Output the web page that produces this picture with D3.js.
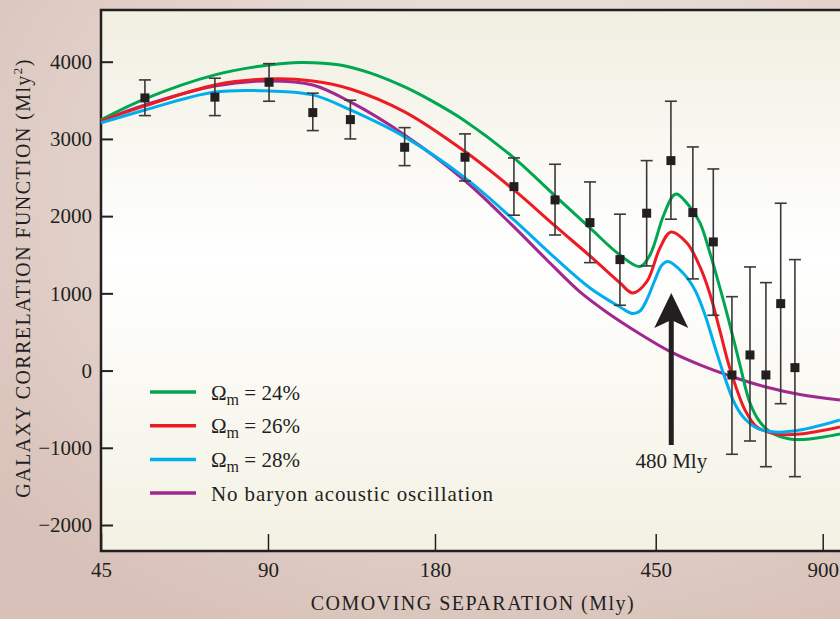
<!DOCTYPE html>
<html>
<head>
<meta charset="utf-8">
<script src="https://cdn.jsdelivr.net/npm/d3@7"></script>
<style>
body{margin:0;overflow:hidden;}
text{font-family:"Liberation Serif","DejaVu Serif",serif;fill:#231f20;}
</style>
</head>
<body>
<div class="bao-chart"></div>
<script>
// tick labels
const xTicks = [45, 90, 180, 450, 900];
const yTicks = [4000, 3000, 2000, 1000, 0, -1000, -2000];

// measured points (separation in Mly, correlation, error bar ends)
const sepData = [54, 72.2, 90.4, 108.4, 126.7, 158.7, 203.9, 249.8, 296.3, 342.5, 387.9, 433.4, 479.3, 525, 571.5, 617.5, 665.5, 711, 756, 802];
const corrData = [3531, 3541, 3734, 3341, 3250, 2892, 2763, 2382, 2210, 1916, 1437, 2038, 2719, 2046, 1666, -57, 202, -57, 867, 38];
const errHigh = [3764, 3786, 3975, 3592, 3501, 3146, 3065, 2754, 2672, 2443, 2025, 2719, 3488, 2896, 2611, 957, 1342, 1139, 2167, 1437];
const errLow = [3302, 3302, 3488, 3108, 3000, 2654, 2456, 2012, 1756, 1398, 846, 1355, 1960, 1187, 716, -1084, -912, -1245, -429, -1374];

// model curves [separation, correlation]
const omega24 = [[45,3246],[54,3518],[72.2,3829],[90.4,3958],[102.8,3991],[121.4,3958],[137.4,3855],[158.7,3673],[176.3,3505],[203.9,3233],[249.8,2754],[296.3,2262],[342.5,1847],[387.9,1497],[421.6,1348],[439.4,1497],[463.7,1989],[483.3,2262],[491.5,2287],[518.8,2119],[540.8,1912],[563.6,1523],[587.5,1070],[612.4,590],[638.3,73],[665.5,-420],[693.6,-666],[729,-809],[785.5,-886],[853.6,-886],[967,-822]];
const omega26 = [[45,3233],[54,3427],[72.2,3699],[90.4,3777],[108.4,3751],[126.7,3647],[158.7,3350],[203.9,2836],[249.8,2339],[296.3,1873],[342.5,1484],[387.9,1135],[409,1005],[433.4,1148],[458,1588],[479.3,1795],[512.3,1653],[540.8,1342],[563.6,992],[587.5,513],[607.4,111],[627.8,-212],[651.8,-510],[685,-731],[744.4,-822],[818.9,-822],[967,-731]];
const omega28 = [[45,3207],[54,3375],[72.2,3608],[90.4,3621],[108.4,3570],[126.7,3375],[158.7,3026],[203.9,2495],[249.8,1950],[296.3,1458],[342.5,1070],[387.9,824],[407.7,740],[421.6,772],[433.4,914],[448.6,1173],[461.8,1368],[473.4,1411],[503.9,1264],[529.6,1044],[552.2,720],[575.4,306],[599.8,-96],[625.2,-433],[651.8,-627],[685,-744],[738,-796],[818.9,-770],[967,-640]];
const noBao = [[45,3233],[54,3440],[72.2,3686],[90.4,3751],[108.4,3699],[126.7,3479],[158.7,3052],[203.9,2458],[249.8,1860],[286.5,1432],[328.6,1018],[364.5,772],[421.6,474],[479.3,241],[540.8,73],[620.1,-83],[711,-212],[818.9,-309],[967,-381]];

const seriesNames = ["24%", "26%", "28%", "No baryon acoustic oscillation"];
const seriesColors = ["#00a651", "#ed1c24", "#00aeef", "#a0288f"];
const seriesData = [omega24, omega26, omega28, noBao];

// arrow at the acoustic peak
const arrowSep = 480;
const arrowTop = 1005;
const arrowBottom = -964;

const width = 840;
const height = 619;
const plotLeft = 101, plotTop = 10, plotBottom = 551;

const svg = d3.select('.bao-chart')
    .append('svg')
    .attr('width', width)
    .attr('height', height);

const defs = svg.append('defs');
const outer = defs.append('radialGradient')
    .attr('id', 'outerBg')
    .attr('cx', '62%').attr('cy', '30%').attr('r', '80%');
outer.append('stop').attr('offset', '0%').attr('stop-color', '#f2ecea');
outer.append('stop').attr('offset', '100%').attr('stop-color', '#d8c1b8');

const inner = defs.append('linearGradient')
    .attr('id', 'plotBg')
    .attr('x1', 0).attr('y1', 0).attr('x2', 0).attr('y2', 1);
inner.append('stop').attr('offset', '0%').attr('stop-color', '#f1efe1');
inner.append('stop').attr('offset', '46%').attr('stop-color', '#ffffff');
inner.append('stop').attr('offset', '100%').attr('stop-color', '#f3f1e3');

svg.append('rect')
    .attr('width', width).attr('height', height)
    .attr('fill', 'url(#outerBg)');

const x = d3.scaleLog().domain([45, 967]).range([plotLeft, width]);
const y = d3.scaleLinear().domain([-2000, 4000]).range([525, 61.7]);

svg.append('rect')
    .attr('x', plotLeft).attr('y', plotTop)
    .attr('width', width - plotLeft + 5).attr('height', plotBottom - plotTop)
    .attr('fill', 'url(#plotBg)');

// axes (ticks point inward)
const yAxis = d3.axisLeft(y)
    .tickValues(yTicks)
    .tickSize(-12)
    .tickPadding(9)
    .tickFormat(d => d < 0 ? '\u2212' + Math.abs(d) : d);
const gy = svg.append('g')
    .attr('transform', `translate(${plotLeft},0)`)
    .call(yAxis);
gy.select('.domain').remove();
gy.selectAll('line').attr('stroke', '#231f20').attr('stroke-width', 2);
gy.selectAll('text')
    .attr('font-size', 21)
    .attr('font-family', '"Liberation Serif", serif')
    .attr('fill', '#231f20');

const xAxis = d3.axisBottom(x)
    .tickValues(xTicks)
    .tickSize(-17)
    .tickPadding(11)
    .tickFormat(d3.format('d'));
const gx = svg.append('g')
    .attr('transform', `translate(0,${plotBottom})`)
    .call(xAxis);
gx.select('.domain').remove();
gx.selectAll('line').attr('stroke', '#231f20').attr('stroke-width', 1.5);
gx.selectAll('text')
    .attr('font-size', 21)
    .attr('font-family', '"Liberation Serif", serif')
    .attr('fill', '#231f20');

// frame
svg.append('path')
    .attr('d', `M${width + 5},${plotTop}H${plotLeft}V${plotBottom}H${width + 5}`)
    .attr('fill', 'none')
    .attr('stroke', '#231f20')
    .attr('stroke-width', 2.5);

// model curves
const line = d3.line()
    .x(d => x(d[0]))
    .y(d => y(d[1]))
    .curve(d3.curveCatmullRom.alpha(0.5));

const plot = svg.append('g');
plot.selectAll('path.model')
    .data([3, 0, 1, 2])
    .enter()
    .append('path')
    .attr('class', 'model')
    .attr('d', i => line(seriesData[i]))
    .attr('fill', 'none')
    .attr('stroke', i => seriesColors[i])
    .attr('stroke-width', 3);

// error bars
const bars = plot.selectAll('g.bar')
    .data(sepData)
    .enter()
    .append('g')
    .attr('class', 'bar');
bars.append('line')
    .attr('x1', d => x(d)).attr('x2', d => x(d))
    .attr('y1', (d, i) => y(errHigh[i]))
    .attr('y2', (d, i) => y(errLow[i]))
    .attr('stroke', '#3a3838').attr('stroke-width', 1.6);
bars.append('line')
    .attr('x1', d => x(d) - 6).attr('x2', d => x(d) + 6)
    .attr('y1', (d, i) => y(errHigh[i]))
    .attr('y2', (d, i) => y(errHigh[i]))
    .attr('stroke', '#3a3838').attr('stroke-width', 1.6);
bars.append('line')
    .attr('x1', d => x(d) - 6).attr('x2', d => x(d) + 6)
    .attr('y1', (d, i) => y(errLow[i]))
    .attr('y2', (d, i) => y(errLow[i]))
    .attr('stroke', '#3a3838').attr('stroke-width', 1.6);
bars.append('rect')
    .attr('x', d => x(d) - 4.5)
    .attr('y', (d, i) => y(corrData[i]) - 4.5)
    .attr('width', 9).attr('height', 9)
    .attr('fill', '#231f20');

// arrow
const ax = x(arrowSep);
const tipY = y(arrowTop);
svg.append('line')
    .attr('x1', ax).attr('x2', ax)
    .attr('y1', tipY + 20).attr('y2', y(arrowBottom))
    .attr('stroke', '#231f20').attr('stroke-width', 5);
svg.append('path')
    .attr('d', `M${ax},${tipY}L${ax + 17},${tipY + 35}L${ax},${tipY + 27}L${ax - 17},${tipY + 35}Z`)
    .attr('fill', '#231f20');
svg.append('text')
    .attr('x', ax).attr('y', y(arrowBottom) + 23)
    .attr('text-anchor', 'middle')
    .attr('font-size', 21)
    .text(arrowSep + ' Mly');

// legend
const legend = svg.selectAll('g.legend')
    .data(seriesNames)
    .enter()
    .append('g')
    .attr('class', 'legend')
    .attr('transform', (d, i) => `translate(150,${392 + i * 33.7})`);
legend.append('line')
    .attr('x1', 0).attr('x2', 46)
    .attr('stroke', (d, i) => seriesColors[i])
    .attr('stroke-width', 3.5);
legend.each(function (d, i) {
    const t = d3.select(this).append('text')
        .attr('x', 61).attr('y', 7.5)
        .attr('font-size', 21);
    if (i < 3) {
        t.append('tspan').text('\u03a9');
        t.append('tspan').text('m').attr('font-size', 16).attr('dy', 5);
        t.append('tspan').text(' = ' + d).attr('dy', -5);
    } else {
        t.attr('letter-spacing', 0.9).text(d);
    }
});

// axis titles
svg.append('text')
    .attr('x', 473).attr('y', 610)
    .attr('text-anchor', 'middle')
    .attr('font-size', 20)
    .attr('letter-spacing', 1.5)
    .text('COMOVING SEPARATION (Mly)');

const yt = svg.append('text')
    .attr('transform', 'translate(30,278) rotate(-90)')
    .attr('text-anchor', 'middle')
    .attr('font-size', 20)
    .attr('letter-spacing', 1.4);
yt.append('tspan').text('GALAXY CORRELATION FUNCTION (Mly');
yt.append('tspan').text('2').attr('font-size', 13).attr('dy', -8);
yt.append('tspan').text(')').attr('dy', 8);
</script>
</body>
</html>
